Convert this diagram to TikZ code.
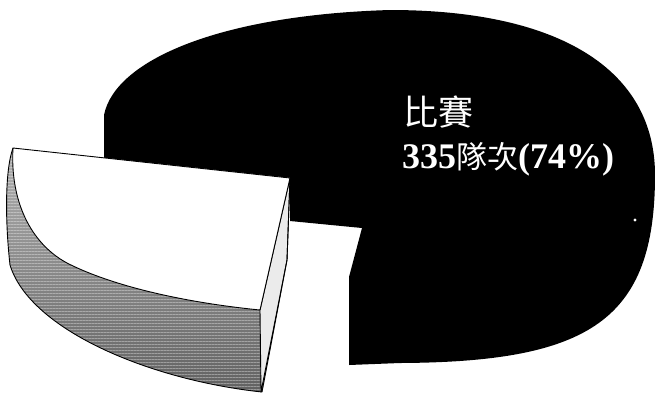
\documentclass[tikz,border=0pt]{standalone}
\usepackage{fontspec}
\setmainfont{Liberation Serif}
\newfontfamily\cjk{Noto Sans CJK TC}
\usetikzlibrary{patterns.meta}
\tikzset{
  outline/.style={draw=black, line width=0.9pt, line join=round},
  sideshade/.style={top color=black!30, middle color=black!78, bottom color=black!62},
  scanlines/.style={pattern={Lines[angle=0,distance=3pt,line width=0.7pt]}, pattern color=white},
  label/.style={text=white, inner sep=0pt, anchor=base west}
}
\begin{document}
\begin{tikzpicture}[x=1pt,y=-1pt]
\useasboundingbox (0,0) rectangle (655,392);
\fill[white] (0,0) rectangle (655,392);
% large black slice (74%)
\fill[black] (104,158) -- (104,115)
  .. controls (115,60) and (220,15) .. (390,10)
  .. controls (560,10) and (655,70) .. (655,175)
  .. controls (655,320) and (590,362) .. (400,363)
  -- (349,365) -- (349,277) -- (362,228) -- (290,221) -- (290,178) -- cycle;
% white speck
\fill[white] (635,220) circle (1.6);
% exploded slice: outer side
\shade[sideshade] (13,148) -- (290,178) -- (287,260) -- (262,392)
  .. controls (150,380) and (30,330) .. (10,265)
  .. controls (5,220) and (5,170) .. (13,148) -- cycle;
\fill[scanlines, opacity=0.35] (13,148) -- (290,178) -- (287,260) -- (262,392)
  .. controls (150,380) and (30,330) .. (10,265)
  .. controls (5,220) and (5,170) .. (13,148) -- cycle;
% radial cut face
\filldraw[fill=black!8, outline] (290,178) -- (260,310) -- (261,392) -- (287,260) -- cycle;
% top face
\filldraw[fill=white, outline] (13,148) -- (290,178) -- (260,310)
  .. controls (180,302) and (110,285) .. (67,263)
  .. controls (30,243) and (10,200) .. (13,148) -- cycle;
% outer outline of the slice
\draw[outline] (13,148) .. controls (5,170) and (5,220) .. (10,265)
  .. controls (30,330) and (150,380) .. (262,392) -- (287,260) -- (290,178);
% labels
\node[label] (l1) at (403,125) {\fontsize{35}{42}\selectfont\cjk 比賽};
\node[label] (l2) at (402,168) {\fontsize{36}{43}\selectfont\bfseries 335{\cjk\mdseries\fontsize{31}{40}\selectfont 隊次}(74\%)};
\end{tikzpicture}
\end{document}
